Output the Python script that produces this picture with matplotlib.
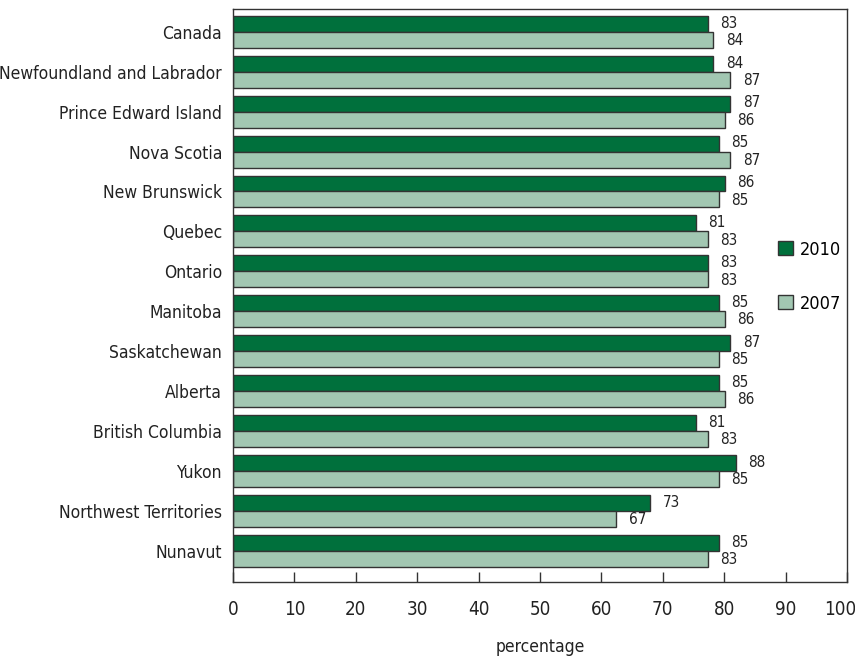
import matplotlib
matplotlib.use('Agg')
import matplotlib.pyplot as plt
import matplotlib.transforms as mtrans
import numpy as np
from matplotlib.patches import Patch

regions = ['Canada', 'Newfoundland and Labrador', 'Prince Edward Island',
           'Nova Scotia', 'New Brunswick', 'Quebec', 'Ontario', 'Manitoba',
           'Saskatchewan', 'Alberta', 'British Columbia', 'Yukon',
           'Northwest Territories', 'Nunavut']
pct_2010 = [83, 84, 87, 85, 86, 81, 83, 85, 87, 85, 81, 88, 73, 85]
pct_2007 = [84, 87, 86, 87, 85, 83, 83, 86, 85, 86, 83, 85, 67, 83]
tick_vals = [0, 10, 20, 30, 40, 50, 60, 70, 80, 90, 100]

dark = '#00703c'
light = '#a2c7b2'
edge = '#333333'
txt = '#222222'
# the printed axis runs a bit longer than the bars' scale
stretch = 1.074

plt.rcParams['font.family'] = 'DejaVu Sans'
plt.rcParams['font.stretch'] = 'condensed'

fig = plt.figure(figsize=(8.55, 6.63), dpi=100)
ax = fig.add_axes([233/855, 81/663, 614/855, 573/663])

y = np.arange(len(regions))
h = 0.4
ax.barh(y - h/2, pct_2010, height=h, color=dark, edgecolor=edge, linewidth=1)
ax.barh(y + h/2, pct_2007, height=h, color=light, edgecolor=edge, linewidth=1)

for i in range(len(regions)):
    ax.annotate(str(pct_2010[i]), (pct_2010[i], y[i] - h/2), xytext=(9, 0.5),
                textcoords='offset points', va='center', ha='left', fontsize=11, color=txt)
    ax.annotate(str(pct_2007[i]), (pct_2007[i], y[i] + h/2), xytext=(9, -0.5),
                textcoords='offset points', va='center', ha='left', fontsize=11, color=txt)

ax.set_ylim(13.78, -0.57)
ax.set_xlim(0, 100*stretch)
ax.set_yticks(y)
ax.set_yticklabels(regions, fontsize=12.5, color=txt)
ax.set_xticks(np.array(tick_vals)*stretch)
ax.set_xticklabels([str(v) for v in tick_vals], fontsize=13.5, color=txt)
ax.tick_params(axis='y', length=0, pad=8)
ax.tick_params(axis='x', direction='in', length=7, width=1, pad=13, color=edge)
ax.set_xlabel('percentage', fontsize=12.5, labelpad=14, color=txt)

# last tick label pulled in a little so it stays on the page
last = ax.get_xticklabels()[-1]
last.set_transform(last.get_transform() + mtrans.ScaledTranslation(-7/100, 0, fig.dpi_scale_trans))

for s in ax.spines.values():
    s.set_linewidth(1)
    s.set_color(edge)

handles = [Patch(facecolor=dark, edgecolor=edge, label='2010'),
           Patch(facecolor=light, edgecolor=edge, label='2007')]
ax.legend(handles=handles, loc='center left', bbox_to_anchor=(0.876, 0.533),
          frameon=False, prop=dict(size=13, stretch='condensed'),
          handlelength=0.8, handleheight=0.8,
          handletextpad=0.4, labelspacing=2.0, borderaxespad=0)

fig.savefig('out.png', dpi=100)
